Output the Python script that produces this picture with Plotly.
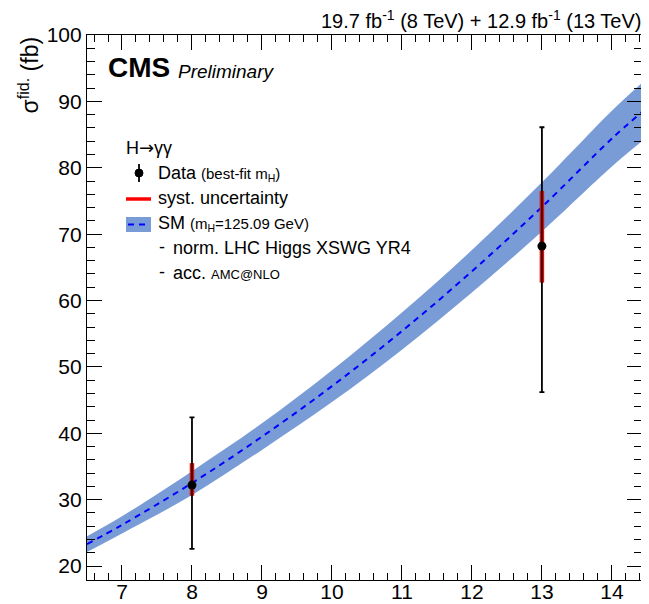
import plotly.graph_objects as go

# ---------------- data ----------------
sqrt_s = [6.5, 7.0, 8.0, 9.0, 10.0, 11.0, 12.0, 13.0, 14.0, 14.43]
sm_central = [23.3, 26.2, 32.5, 39.5, 47.1, 55.4, 64.4, 74.1, 84.4, 88.4]
sm_lo = [22.1, 24.9, 30.7, 37.5, 44.7, 52.6, 61.2, 70.4, 80.2, 84.0]
sm_hi = [24.5, 27.5, 34.3, 41.5, 49.5, 58.2, 67.6, 77.8, 88.6, 92.8]

data_energy = [8.0, 13.0]
data_xs = [32.2, 68.2]
data_tot_up = [10.2, 17.9]
data_tot_dn = [9.6, 22.0]
data_syst_up = [3.3, 8.3]
data_syst_dn = [1.6, 5.5]

x_range = [6.5, 14.43]
y_range = [17.9, 100]

FONT = "Liberation Sans, Arial, Helvetica, sans-serif"
BAND = "#7a9cd6"

# page has an 8px body margin: figure drawn at offset (8, 8)
OFF = 8
W, H = 649 - OFF, 604 - OFF
# plot area in page pixels
L, R, T, B = 87, 642, 35, 580


def px(x):
    return (x - L) / (R - L)


def py(y):
    return (B - y) / (B - T)


fig = go.Figure()

# SM band
fig.add_trace(go.Scatter(x=sqrt_s, y=sm_hi, mode="lines", line=dict(width=0, color=BAND, shape="spline"),
                         hoverinfo="skip", showlegend=False))
fig.add_trace(go.Scatter(x=sqrt_s, y=sm_lo, mode="lines", line=dict(width=0, color=BAND, shape="spline"),
                         fill="tonexty", fillcolor=BAND, hoverinfo="skip", showlegend=False))
fig.add_trace(go.Scatter(x=sqrt_s, y=sm_central, mode="lines",
                         line=dict(color="#0000ff", width=2, dash="6px,5px", shape="spline"),
                         showlegend=False))

# systematic uncertainty (red)
fig.add_trace(go.Scatter(x=data_energy, y=data_xs, mode="markers", marker=dict(size=1, color="rgba(0,0,0,0)"),
                         error_y=dict(type="data", symmetric=False, array=data_syst_up, arrayminus=data_syst_dn,
                                      color="#ff0000", thickness=4.5, width=0),
                         showlegend=False))
# total uncertainty (black) + data points
fig.add_trace(go.Scatter(x=data_energy, y=data_xs, mode="markers", marker=dict(size=9, color="black"),
                         error_y=dict(type="data", symmetric=False, array=data_tot_up, arrayminus=data_tot_dn,
                                      color="black", thickness=1.8, width=2.5),
                         showlegend=False))

axis_common = dict(showline=True, linecolor="black", linewidth=1.2, mirror="allticks",
                   ticks="inside", ticklen=15, tickwidth=1, tickcolor="black",
                   showgrid=False, zeroline=False, automargin=False,
                   tickfont=dict(family=FONT, size=21, color="black"))

fig.update_xaxes(range=x_range, dtick=1, tick0=7, ticklabelstandoff=-7,
                 minor=dict(ticks="inside", ticklen=7, dtick=0.2, tick0=7, tickcolor="black", showgrid=False),
                 **axis_common)
fig.update_yaxes(range=y_range, dtick=10, tick0=20,
                 minor=dict(ticks="inside", ticklen=8, dtick=2, tick0=20, tickcolor="black", showgrid=False),
                 **axis_common)

annotations = []
shapes = []


def txt(text, x, y, size, xanchor="left", yanchor="middle", **kw):
    annotations.append(dict(text=text, x=px(x), y=py(y), xref="paper", yref="paper",
                            xanchor=xanchor, yanchor=yanchor, showarrow=False,
                            font=dict(family=FONT, size=size, color="black"), **kw))


ARROW = "<span style='font-family:DejaVu Sans'>→</span>"

# top-right title
txt("19.7 fb<sup>-1</sup> (8 TeV) + 12.9 fb<sup>-1</sup> (13 TeV)", 643, 20, 20, xanchor="right")
# y axis title
annotations.append(dict(text="σ<sup>fid.</sup> (fb)", x=px(28), y=1.0, xref="paper", yref="paper",
                        xanchor="center", yanchor="top", textangle=-90, showarrow=False,
                        font=dict(family=FONT, size=23, color="black")))
# CMS label
txt("<b>CMS</b>", 106, 68, 28)
txt("<i>Preliminary</i>", 176, 71, 19)

# legend
txt("H" + ARROW + "γγ", 124, 148, 18)
txt("Data <span style='font-size:15px'>(best-fit m<sub>H</sub>)</span>", 156, 173, 18)
txt("syst. uncertainty", 156, 198, 18)
txt("SM <span style='font-size:15px'>(m<sub>H</sub>=125.09 GeV)</span>", 156, 223, 18)
txt("-", 157, 247, 18)
txt("norm. LHC Higgs XSWG YR4", 171, 248, 18)
txt("-", 157, 272, 18)
txt("acc. <span style='font-size:13px'>AMC@NLO</span>", 171, 273, 18)

# legend glyphs (paper coordinates)
shapes.append(dict(type="line", xref="paper", yref="paper", x0=px(139), x1=px(139), y0=py(164), y1=py(182),
                   line=dict(color="black", width=1.8)))
shapes.append(dict(type="circle", xref="paper", yref="paper", x0=px(135), x1=px(143), y0=py(169), y1=py(177),
                   fillcolor="black", line=dict(color="black", width=1)))
shapes.append(dict(type="line", xref="paper", yref="paper", x0=px(126), x1=px(151), y0=py(199), y1=py(199),
                   line=dict(color="#ff0000", width=3.5)))
shapes.append(dict(type="rect", xref="paper", yref="paper", x0=px(126), x1=px(151), y0=py(217), y1=py(232),
                   fillcolor=BAND, line=dict(width=0)))
shapes.append(dict(type="line", xref="paper", yref="paper", x0=px(128), x1=px(150), y0=py(224.5), y1=py(224.5),
                   line=dict(color="#0000ff", width=2, dash="6px,5px")))

fig.update_layout(width=W, height=H,
                  margin=dict(l=L - OFF, r=(W + OFF) - R, t=T - OFF, b=(H + OFF) - B, pad=0),
                  paper_bgcolor="white", plot_bgcolor="white",
                  showlegend=False, annotations=annotations, shapes=shapes,
                  font=dict(family=FONT, color="black"))

fig.write_html("out.html")
